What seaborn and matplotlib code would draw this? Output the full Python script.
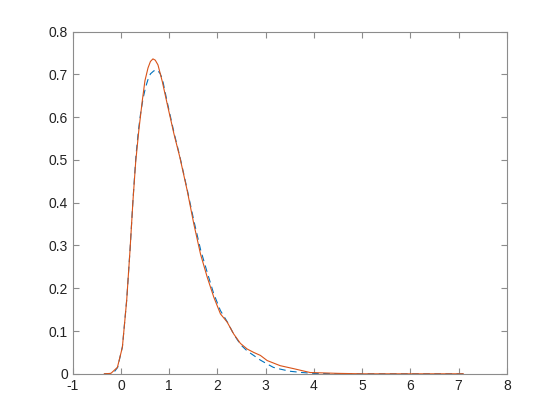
import numpy as np
import pandas as pd
import seaborn as sns
import matplotlib.pyplot as plt

# x positions and density values
x_blue = [-0.35, -0.25, -0.15, -0.07, 0.03, 0.12, 0.19, 0.25, 0.31, 0.36, 0.41, 0.46, 0.51,
          0.56, 0.61, 0.68, 0.75, 0.81, 0.86, 0.96, 1.10, 1.22, 1.37, 1.51, 1.65, 1.79,
          1.92, 2.06, 2.20, 2.34, 2.48, 2.62, 2.75, 2.89, 3.03, 3.16, 3.3, 3.5, 3.75,
          4.0, 4.5, 5.0, 6.0, 7.1]
y_blue = [0.0, 0.0, 0.003, 0.015, 0.064, 0.176, 0.295, 0.41, 0.51, 0.568, 0.612, 0.645, 0.670,
          0.688, 0.701, 0.708, 0.710, 0.702, 0.688, 0.634, 0.563, 0.508, 0.432, 0.358, 0.290,
          0.236, 0.188, 0.148, 0.122, 0.092, 0.068, 0.053, 0.043, 0.032, 0.023, 0.015,
          0.011, 0.006, 0.003, 0.001, 0.0, 0.0, 0.0, 0.0]

x_orange = [-0.35, -0.21, -0.075, 0.028, 0.117, 0.186, 0.248, 0.304, 0.372, 0.442, 0.496,
            0.56, 0.61, 0.662, 0.71, 0.766, 0.856, 0.959, 1.097, 1.22, 1.373, 1.51, 1.648,
            1.787, 1.924, 2.062, 2.20, 2.337, 2.476, 2.615, 2.751, 2.89, 3.03, 3.30, 3.58,
            3.92, 4.5, 5.0, 6.0, 7.1]
y_orange = [0.0, 0.001, 0.015, 0.062, 0.171, 0.288, 0.405, 0.495, 0.572, 0.639, 0.685,
            0.715, 0.730, 0.736, 0.733, 0.722, 0.683, 0.630, 0.561, 0.506, 0.428, 0.350, 0.280,
            0.226, 0.179, 0.140, 0.121, 0.093, 0.071, 0.058, 0.050, 0.043, 0.031, 0.019, 0.012,
            0.003, 0.001, 0.0, 0.0, 0.0]

sns.set_style("white")
plt.rcParams['font.family'] = ['Liberation Sans', 'DejaVu Sans']

fig = plt.figure(figsize=(5.6, 4.2), dpi=100)
ax = fig.add_axes([0.13, 0.11, 0.775, 0.815])

sns.lineplot(x=x_blue, y=y_blue, ax=ax, color='#0072BD', linewidth=0.8,
             linestyle='--', sort=False)
ax.lines[-1].set_dashes([6, 4])
sns.lineplot(x=x_orange, y=y_orange, ax=ax, color='#D95319', linewidth=0.8, sort=False)

ax.set_xlim(-1, 8)
ax.set_ylim(0, 0.8)
ax.set_xticks(np.arange(-1, 9, 1))
ax.set_yticks(np.arange(0, 0.81, 0.1))
ax.set_xticklabels([str(v) for v in range(-1, 9)])
ax.set_yticklabels(['0'] + [f"{v:.1f}" for v in np.arange(0.1, 0.81, 0.1)])

for s in ax.spines.values():
    s.set_visible(True)
    s.set_color('#8c8c8c')
    s.set_linewidth(0.8)
ax.tick_params(direction='in', length=4, width=0.8, color='#8c8c8c',
               labelcolor='#222222', labelsize=10, top=True, right=True,
               bottom=True, left=True)
ax.tick_params(axis='x', pad=4)

fig.savefig('out.png', dpi=100)
